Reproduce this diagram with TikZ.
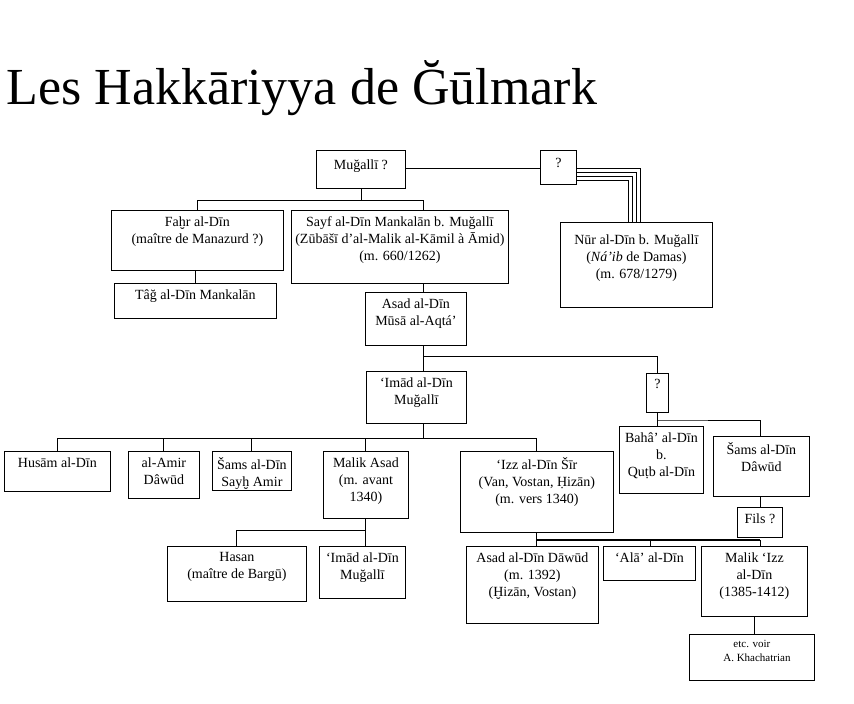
\documentclass[tikz,border=0pt]{standalone}
\usepackage{fontspec}
\setmainfont{Liberation Serif}
\begin{document}
\begin{tikzpicture}[x=1pt,y=-1pt,line width=0.8pt,
  box/.style={draw,inner sep=0pt,anchor=north west,font=\fontsize{14}{17}\selectfont}]
\useasboundingbox (0,0) rectangle (854,704);
\newcommand{\bx}[6]{\node[box] (#1) at (#2,#3) {\begin{minipage}[t][#5pt][t]{#4pt}\centering\vspace{6pt}#6\end{minipage}};}
\node[anchor=base west,inner sep=0pt,font=\fontsize{52}{56}\selectfont] (title) at (6,104) {Les Hakkāriyya de Ğūlmark};
\bx{M}{316}{150}{89}{38}{\vspace{3pt}Muğallī ?}
\bx{Q1}{540}{150}{36}{34}{\vspace{2pt}?}
\bx{F}{111}{210}{172}{60}{Faḫr al-Dīn\\(maître de Manazurd ?)}
\bx{S}{291}{210}{217}{73}{Sayf al-Dīn Mankalān b. Muğallī\\(Zūbāšī d'al-Malik al-Kāmil à Āmid)\\(m. 660/1262)}
\bx{T}{114}{283}{162}{35}{Tâğ al-Dīn Mankalān}
\bx{A}{365}{292}{101}{53}{Asad al-Dīn\\Mūsā al-Aqtá'}
\bx{N}{560}{222}{152}{85}{\vspace{6pt}Nūr al-Dīn b. Muğallī\\(\textit{Ná'ib} de Damas)\\(m. 678/1279)}
\bx{I}{366}{371}{100}{52}{‘Imād al-Dīn\\Muğallī}
\bx{Q2}{646}{373}{22}{39}{?}
\bx{H}{4}{451}{106}{40}{Husām al-Dīn}
\bx{D}{128}{451}{71}{47}{al-Amir\\Dâwūd}
\bx{SS}{212}{451}{79}{39}{Šams al-Dīn\\Sayḫ Amir}
\bx{MA}{323}{451}{85}{67}{Malik Asad\\(m. avant\\1340)}
\bx{IZ}{460}{451}{153}{81}{‘Izz al-Dīn Šīr\\(Van, Vostan, Ḥizān)\\(m. vers 1340)}
\bx{B}{619}{426}{84}{67}{Bahâ' al-Dīn\\b.\\Quṭb al-Dīn}
\bx{SD}{713}{436}{96}{60}{Šams al-Dīn\\Dâwūd}
\bx{FI}{737}{507}{45}{30}{Fils ?}
\bx{HA}{167}{546}{139}{55}{Hasan\\(maître de Bargū)}
\bx{IM}{319}{546}{86}{52}{‘Imād al-Dīn\\Muğallī}
\bx{AD}{466}{546}{132}{77}{Asad al-Dīn Dāwūd\\(m. 1392)\\(Ḫizān, Vostan)}
\bx{AL}{603}{546}{92}{34}{‘Alā' al-Dīn}
\bx{MI}{701}{546}{106}{70}{Malik ‘Izz\\al-Dīn\\(1385-1412)}
\node[box,font=\fontsize{11}{14}\selectfont] (E) at (689,634) {\begin{minipage}[t][46pt][t]{125pt}\centering\vspace{6pt}etc. voir\\\hspace*{10pt}A. Khachatrian\end{minipage}};
% connectors
\draw (M.south) |- (197,200) -- (197,210);
\draw (M.south) |- (423,200) -- (423,210);
\draw (195,270) -- (195,283);
\draw (405,168) -- (540,168);
\foreach \i in {0,1,2,3}
  \draw[line width=0.6pt] (576,168+4*\i) -| (640-4*\i,222);
\draw (423,283) -- (423,292);
\draw (423,345) -- (423,371);
\draw (423,356) -| (Q2.north);
\draw (423,423) -- (423,438);
\draw (57,438) -- (536,438);
\foreach \xx in {57,163,251,365,536} \draw (\xx,438) -- (\xx,451);
\draw (Q2.south) |- (657,420) -- (760,420) -- (760,436);
\draw (657,420) -- (657,426);
\draw (760,496) -- (760,507);
\draw (365,518) -- (365,530);
\draw (236,530) -- (365,530);
\draw (236,530) -- (236,546);
\draw (365,530) -- (365,546);
\draw (536,532) -- (536,540);
\draw[line width=1.4pt] (536,540) -- (760,540);
\foreach \xx in {536,650,760} \draw (\xx,540) -- (\xx,546);
\draw (754,616) -- (754,634);
\end{tikzpicture}
\end{document}
